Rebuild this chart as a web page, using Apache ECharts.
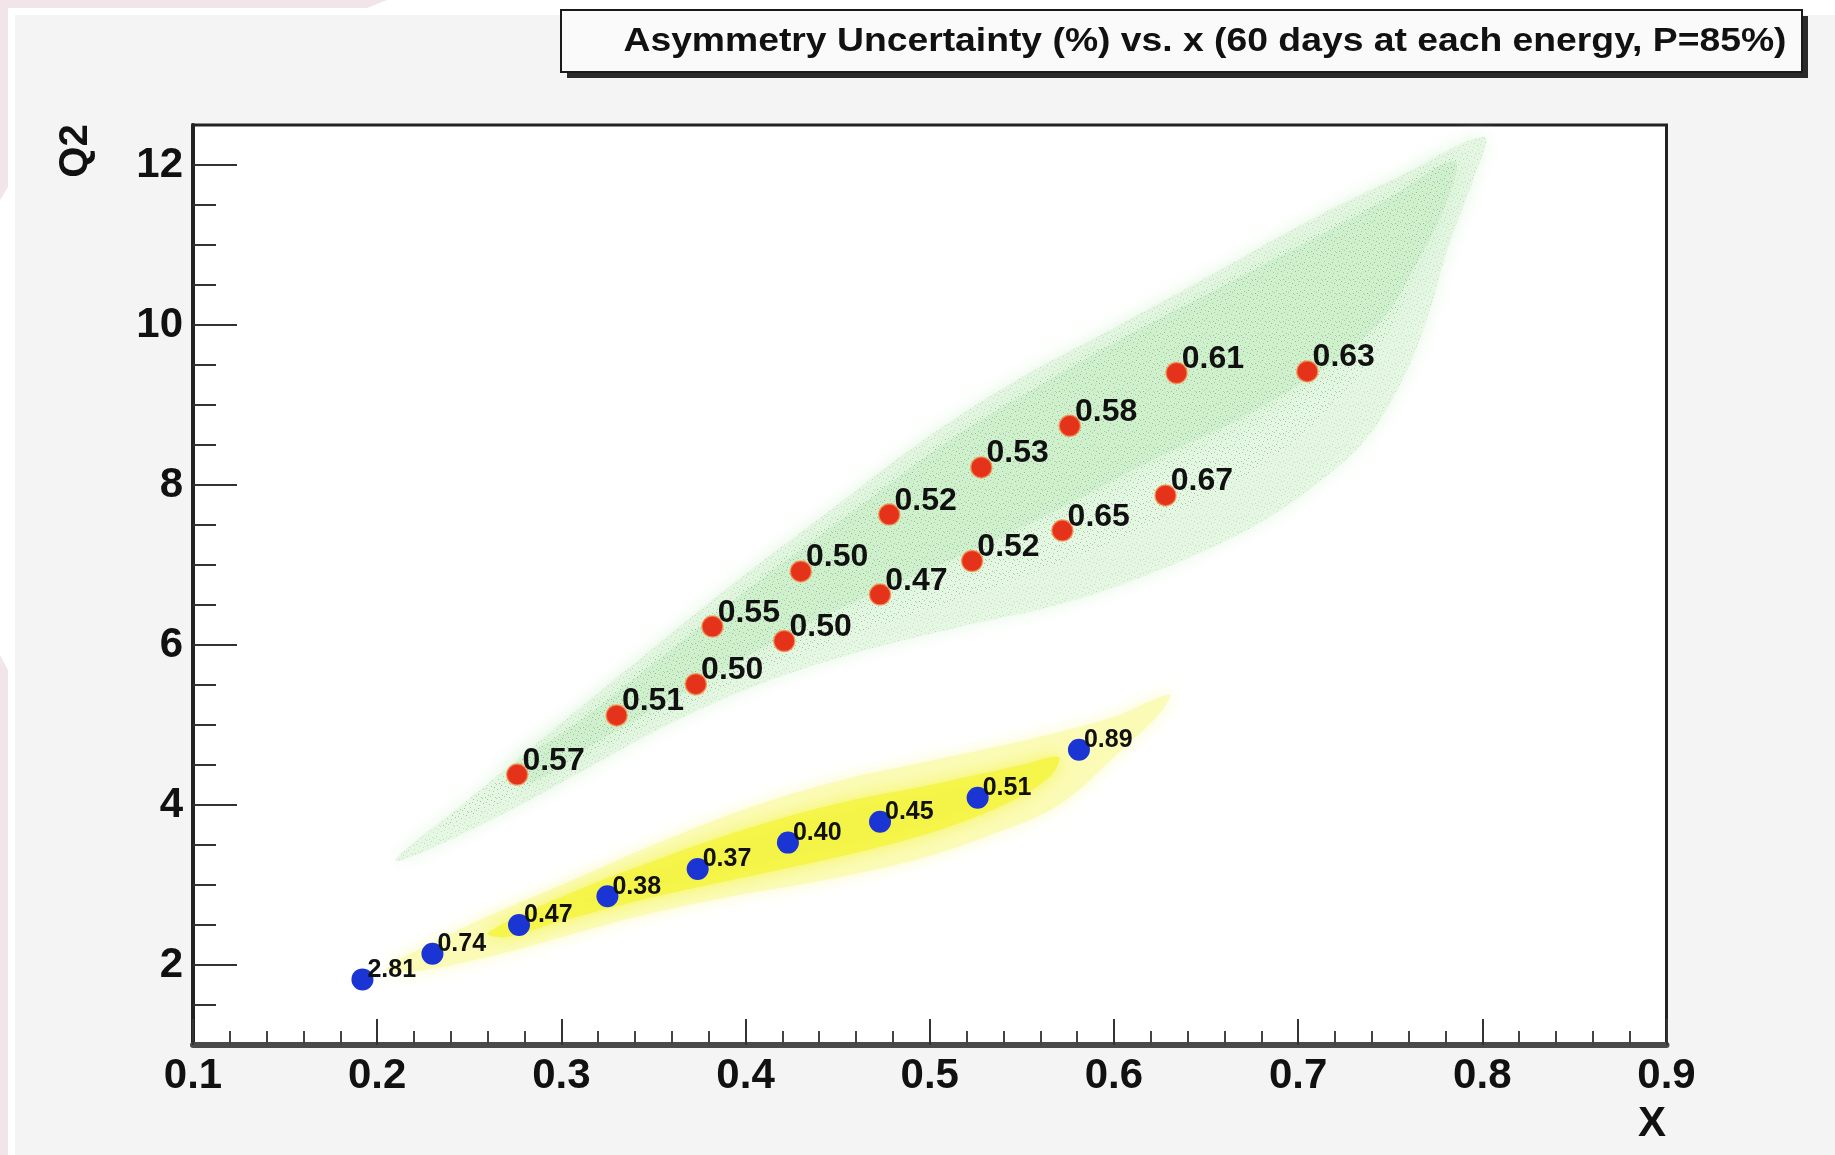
<!DOCTYPE html>
<html>
<head>
<meta charset="utf-8">
<script src="https://cdn.jsdelivr.net/npm/echarts@6/dist/echarts.min.js"></script>
<style>
html, body { margin: 0; padding: 0; background: #fff; }
#chart { width: 1835px; height: 1155px; }
</style>
</head>
<body>
<div id="chart"></div>
<script>
var FONT = '"Liberation Sans", Arial, Helvetica, sans-serif';

// red points (upper group) with their labels
var redX = [0.276, 0.330, 0.373, 0.382, 0.421, 0.430, 0.473, 0.478, 0.523, 0.528, 0.572, 0.576, 0.628, 0.634, 0.705];
var redY = [4.38, 5.12, 5.51, 6.23, 6.05, 6.92, 6.63, 7.63, 7.05, 8.22, 7.43, 8.74, 7.87, 9.40, 9.42];
var redLabels = ['0.57', '0.51', '0.50', '0.55', '0.50', '0.50', '0.47', '0.52', '0.52', '0.53', '0.65', '0.58', '0.67', '0.61', '0.63'];

// blue points (lower group)
var blueX = [0.192, 0.230, 0.277, 0.325, 0.374, 0.423, 0.473, 0.526, 0.581];
var blueY = [1.82, 2.14, 2.50, 2.86, 3.20, 3.53, 3.79, 4.09, 4.69];
var blueLabels = ['2.81', '0.74', '0.47', '0.38', '0.37', '0.40', '0.45', '0.51', '0.89'];

// axis ticks
var yMajor = [2, 4, 6, 8, 10, 12];
var yMinor = [1.5, 2.5, 3, 3.5, 4.5, 5, 5.5, 6.5, 7, 7.5, 8.5, 9, 9.5, 10.5, 11, 11.5];

// outlines of the two acceptance clouds (x, Q2)
var greenOuter = [
  [0.210, 3.30], [0.248, 4.04], [0.294, 4.91], [0.344, 5.85], [0.394, 6.78], [0.444, 7.65],
  [0.494, 8.52], [0.544, 9.27], [0.599, 9.95], [0.653, 10.63], [0.707, 11.32], [0.757, 11.88],
  [0.801, 12.35], [0.795, 11.82], [0.782, 11.01], [0.770, 10.08], [0.757, 9.33], [0.737, 8.58],
  [0.707, 7.96], [0.674, 7.46], [0.628, 6.97], [0.574, 6.53], [0.515, 6.22], [0.461, 5.91],
  [0.411, 5.54], [0.361, 5.04], [0.311, 4.42], [0.260, 3.79]
];
var greenMid = [
  [0.235, 3.75], [0.27, 4.40], [0.31, 5.10], [0.36, 6.00], [0.41, 6.90], [0.46, 7.75],
  [0.51, 8.60], [0.56, 9.30], [0.61, 9.95], [0.66, 10.55], [0.71, 11.15], [0.75, 11.65],
  [0.785, 12.10], [0.78, 11.55], [0.765, 10.75], [0.75, 9.95], [0.725, 9.15], [0.69, 8.40],
  [0.65, 7.85], [0.60, 7.30], [0.55, 6.85], [0.50, 6.45], [0.45, 6.05], [0.40, 5.60],
  [0.35, 5.05], [0.30, 4.45], [0.26, 3.95]
];
var greenCore = [
  [0.27, 4.40], [0.31, 5.05], [0.36, 5.95], [0.41, 6.85], [0.46, 7.70], [0.51, 8.55],
  [0.56, 9.25], [0.61, 9.90], [0.66, 10.50], [0.71, 11.10], [0.75, 11.60], [0.785, 12.05],
  [0.78, 11.50], [0.765, 10.80], [0.745, 10.05], [0.71, 9.40], [0.67, 8.85], [0.62, 8.30],
  [0.57, 7.70], [0.52, 7.15], [0.47, 6.65], [0.42, 6.10], [0.37, 5.45], [0.32, 4.80], [0.285, 4.30]
];
var yellowOuter = [
  [0.205, 1.95], [0.25, 2.50], [0.30, 3.00], [0.35, 3.50], [0.40, 3.95], [0.45, 4.30],
  [0.50, 4.55], [0.55, 4.80], [0.60, 5.10], [0.63, 5.38], [0.625, 5.15], [0.60, 4.60],
  [0.57, 4.00], [0.53, 3.60], [0.49, 3.30], [0.44, 3.05], [0.39, 2.85], [0.34, 2.60],
  [0.30, 2.35], [0.26, 2.10], [0.22, 1.92]
];
var yellowCore = [
  [0.26, 2.40], [0.30, 2.85], [0.35, 3.30], [0.40, 3.70], [0.45, 4.02], [0.50, 4.25],
  [0.55, 4.50], [0.57, 4.60], [0.565, 4.35], [0.54, 4.00], [0.50, 3.65], [0.45, 3.35],
  [0.40, 3.10], [0.35, 2.85], [0.30, 2.55], [0.27, 2.35]
];

// speckle tile so the green cloud reads as scattered points
var speckle = document.createElement('canvas');
speckle.width = 14;
speckle.height = 14;
(function () {
  var ctx = speckle.getContext('2d');
  var green = [[1, 2], [6, 0], [10, 4], [3, 7], [8, 9], [12, 11], [0, 12], [5, 13], [13, 6]];
  var grey = [[4, 3], [11, 1], [9, 13], [2, 10], [7, 5]];
  ctx.fillStyle = '#72cf72';
  green.forEach(function (p) { ctx.fillRect(p[0], p[1], 1, 1); });
  ctx.fillStyle = '#8c9a8c';
  grey.forEach(function (p) { ctx.fillRect(p[0], p[1], 1, 1); });
})();

function zip(xs, ys, labels) {
  return xs.map(function (x, i) { return [x, ys[i], labels[i]]; });
}

function cloud(name, outline, fill, blur, z, opacity) {
  return {
    type: 'custom',
    name: name,
    silent: true,
    z: z,
    data: [0],
    renderItem: function (params, api) {
      var pts = outline.map(function (p) { return api.coord(p); });
      return {
        type: 'polygon',
        shape: { points: pts, smooth: 0.35 },
        style: { fill: fill, shadowBlur: blur, shadowColor: blur ? fill : 'transparent', opacity: opacity == null ? 1 : opacity }
      };
    }
  };
}

var chart = echarts.init(document.getElementById('chart'));

var option = {
  backgroundColor: '#f4f4f4',
  animation: false,
  grid: {
    left: 193, right: 168.5, top: 125, bottom: 110,
    show: true, backgroundColor: '#ffffff', borderColor: '#222', borderWidth: 3
  },
  xAxis: {
    type: 'value', min: 0.1, max: 0.9, interval: 0.1,
    axisLine: { show: true, lineStyle: { color: '#4a4a4a', width: 6 } },
    axisTick: { show: true, inside: true, length: 26, lineStyle: { color: '#333', width: 2 } },
    minorTick: { show: true, splitNumber: 5, length: 14, lineStyle: { color: '#444', width: 2 } },
    axisLabel: { fontSize: 42, fontWeight: 'bold', color: '#111', fontFamily: FONT, margin: 10 },
    splitLine: { show: false }
  },
  yAxis: [
    {
      type: 'value', min: 1, max: 12.5, position: 'left',
      axisLine: { show: true, lineStyle: { color: '#222', width: 4 } },
      axisTick: { show: true, inside: true, length: 44, customValues: yMajor, lineStyle: { color: '#333', width: 2 } },
      axisLabel: { customValues: yMajor, fontSize: 42, fontWeight: 'bold', color: '#111', fontFamily: FONT, margin: 10, padding: [10, 0, 0, 0] },
      splitLine: { show: false }
    },
    {
      type: 'value', min: 1, max: 12.5, position: 'left',
      axisLine: { show: false },
      axisTick: { show: true, inside: true, length: 23, customValues: yMinor, lineStyle: { color: '#333', width: 2 } },
      axisLabel: { show: false },
      splitLine: { show: false }
    }
  ],
  graphic: [
    { type: 'rect', shape: { x: 0, y: 0, width: 1835, height: 15 }, style: { fill: '#ffffff' }, silent: true },
    { type: 'rect', shape: { x: 0, y: 0, width: 15, height: 1155 }, style: { fill: '#ffffff' }, silent: true },
    { type: 'polygon', shape: { points: [[0, 0], [387, 0], [367, 8], [0, 8]] }, style: { fill: '#f2e5ea' }, silent: true },
    { type: 'polygon', shape: { points: [[0, 0], [8, 0], [8, 187], [0, 200]] }, style: { fill: '#f2e5ea' }, silent: true },
    { type: 'polygon', shape: { points: [[0, 655], [8, 670], [8, 1155], [0, 1155]] }, style: { fill: '#f2e5ea' }, silent: true },
    { type: 'rect', shape: { x: 567, y: 16, width: 1241, height: 62 }, style: { fill: '#2a2a2a' }, silent: true },
    { type: 'rect', shape: { x: 561, y: 10, width: 1241, height: 62 }, style: { fill: '#fafafa', stroke: '#1a1a1a', lineWidth: 2 }, silent: true },
    {
      type: 'text', x: 1205, y: 42, scaleX: 1.13, silent: true,
      style: {
        text: 'Asymmetry Uncertainty (%) vs. x (60 days at each energy, P=85%)',
        font: 'bold 33px ' + FONT, fill: '#111', align: 'center', verticalAlign: 'middle'
      }
    },
    {
      type: 'text', x: 76, y: 151, rotation: Math.PI / 2, silent: true,
      style: { text: 'Q2', font: 'bold 40px ' + FONT, fill: '#111', align: 'center', verticalAlign: 'middle' }
    },
    {
      type: 'text', x: 1652, y: 1124, silent: true,
      style: { text: 'X', font: 'bold 42px ' + FONT, fill: '#111', align: 'center', verticalAlign: 'middle' }
    }
  ],
  series: [
    cloud('green halo', greenOuter, 'rgba(228,246,226,0.9)', 18, 1),
    cloud('green core', greenCore, 'rgba(204,238,202,0.75)', 24, 2),
    cloud('green speckle outer', greenOuter, { image: speckle, repeat: 'repeat' }, 0, 3, 0.35),
    cloud('green speckle inner', greenMid, { image: speckle, repeat: 'repeat' }, 0, 3, 0.5),
    cloud('yellow halo', yellowOuter, 'rgba(250,250,178,0.85)', 16, 4),
    cloud('yellow core', yellowCore, 'rgba(244,244,70,0.9)', 16, 5),
    {
      type: 'scatter', name: 'upper', z: 10,
      data: zip(redX, redY, redLabels),
      symbolSize: 21,
      itemStyle: { color: '#e4321b', borderColor: 'rgba(245,140,70,0.7)', borderWidth: 1.5, opacity: 1 },
      label: {
        show: true, position: [16.5, 13.5], align: 'left', verticalAlign: 'bottom',
        formatter: function (p) { return p.value[2]; },
        fontSize: 32, fontWeight: 'bold', fontFamily: FONT, color: '#111'
      }
    },
    {
      type: 'scatter', name: 'lower', z: 10,
      data: zip(blueX, blueY, blueLabels),
      symbolSize: 22,
      itemStyle: { color: '#1a35d4', opacity: 1 },
      label: {
        show: true, position: [16, 14], align: 'left', verticalAlign: 'bottom',
        formatter: function (p) { return p.value[2]; },
        fontSize: 25, fontWeight: 'bold', fontFamily: FONT, color: '#111'
      }
    }
  ]
};

chart.setOption(option);
</script>
</body>
</html>
